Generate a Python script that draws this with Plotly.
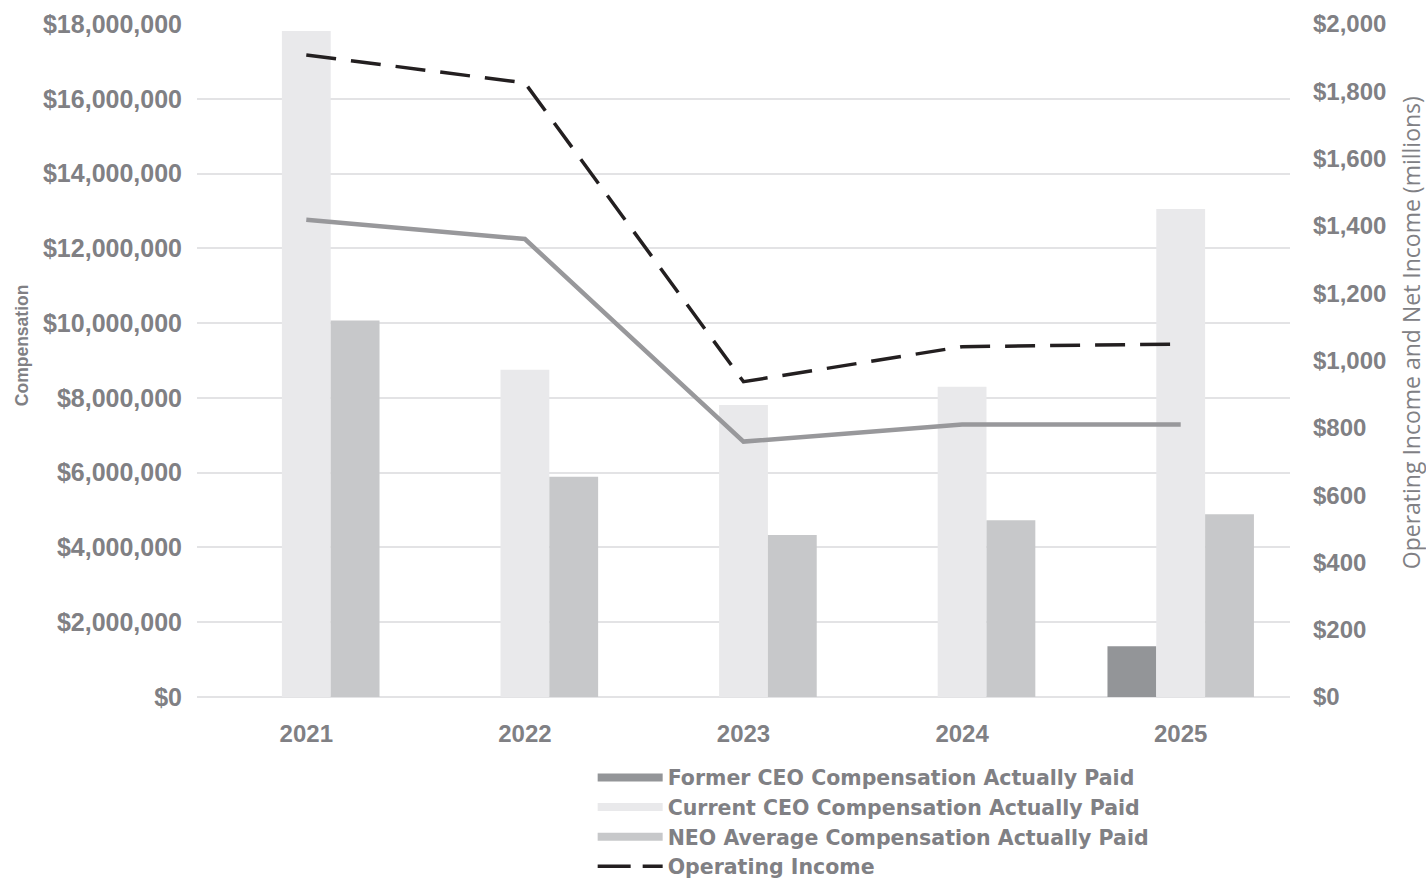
import plotly.graph_objects as go

years = ["2021", "2022", "2023", "2024", "2025"]
former_ceo = [None, None, None, None, 1360000]
current_ceo = [17810000, 8750000, 7810000, 8300000, 13050000]
neo_avg = [10070000, 5890000, 4330000, 4730000, 4890000]
operating_income = [1908, 1825, 937, 1041, 1049]
net_income = [1418, 1361, 759, 810, 810]

C_FORMER = "#939598"
C_CURRENT = "#E9E9EB"
C_NEO = "#C7C8CA"
C_OPINC = "#231F20"
C_NETINC = "#98989B"
TXT = "#808084"
FONT = "Liberation Sans, Arial, sans-serif"

fig = go.Figure()

fig.add_trace(go.Bar(x=years, y=former_ceo, name="Former CEO Compensation Actually Paid",
                     marker=dict(color=C_FORMER, line=dict(width=0)), showlegend=False))
fig.add_trace(go.Bar(x=years, y=current_ceo, name="Current CEO Compensation Actually Paid",
                     marker=dict(color=C_CURRENT, line=dict(width=0)), showlegend=False))
fig.add_trace(go.Bar(x=years, y=neo_avg, name="NEO Average Compensation Actually Paid",
                     marker=dict(color=C_NEO, line=dict(width=0)), showlegend=False))

fig.add_trace(go.Scatter(x=years, y=net_income, name="Net Income", mode="lines",
                         line=dict(color=C_NETINC, width=4.5), yaxis="y2", showlegend=False))
fig.add_trace(go.Scatter(x=years, y=operating_income, name="Operating Income", mode="lines",
                         line=dict(color=C_OPINC, width=3.5, dash="30px,15px"), yaxis="y2",
                         showlegend=False))

# legend entries (wide swatches like the reference)
legend_items = [
    ("Former CEO Compensation Actually Paid", C_FORMER, 8, "solid"),
    ("Current CEO Compensation Actually Paid", C_CURRENT, 8, "solid"),
    ("NEO Average Compensation Actually Paid", C_NEO, 8, "solid"),
    ("Operating Income", C_OPINC, 3.5, "33px,12px"),
]
for name, col, w, dash in legend_items:
    fig.add_trace(go.Scatter(x=[None], y=[None], mode="lines", name=name,
                             line=dict(color=col, width=w, dash=dash), showlegend=True))

fig.update_layout(
    width=1426, height=881,
    margin=dict(l=197, r=136, t=24, b=184, autoexpand=False),
    paper_bgcolor="white", plot_bgcolor="white",
    barmode="group", bargap=0.33, bargroupgap=0,
    font=dict(family=FONT, color=TXT),
    xaxis=dict(
        type="category", showgrid=False, showline=False, zeroline=False,
        tickfont=dict(size=24, color=TXT, family=FONT, weight="bold"),
        ticks="", ticklabelstandoff=20,
    ),
    yaxis=dict(
        range=[0, 18000000], dtick=2000000, tickformat="$,.0f",
        showgrid=True, gridcolor="#E3E3E5", gridwidth=1.5,
        zeroline=True, zerolinecolor="#E3E3E5", zerolinewidth=1.5,
        showline=False, ticks="", ticklabelstandoff=14,
        tickfont=dict(size=25, color=TXT, family=FONT, weight="bold"),
    ),
    yaxis2=dict(
        overlaying="y", side="right", range=[0, 2000], dtick=200,
        tickprefix="$", tickformat=",", showgrid=False, zeroline=False,
        showline=False, ticks="", ticklabelstandoff=22,
        tickfont=dict(size=24, color=TXT, family=FONT, weight="bold"),
    ),
    legend=dict(
        x=0.362, xanchor="left", y=-0.090, yanchor="top",
        orientation="v", bgcolor="rgba(0,0,0,0)",
        font=dict(size=20.5, color=TXT, family="DejaVu Sans, sans-serif", weight="bold"),
        tracegroupgap=0, itemwidth=65, maxheight=400,
    ),
    annotations=[
        dict(text="Compensation", textangle=-90, xref="paper", yref="paper",
             x=-0.160, y=0.523, xanchor="center", yanchor="middle", showarrow=False,
             font=dict(size=17.5, color=TXT, family=FONT, weight="bold")),
        dict(text="Operating Income and Net Income (millions)", textangle=-90,
             xref="paper", yref="paper", x=1.111, y=0.541, xanchor="center",
             yanchor="middle", showarrow=False,
             font=dict(size=23, color=TXT, family="Open Sans, sans-serif")),
    ],
)

fig.write_html("out.html")
